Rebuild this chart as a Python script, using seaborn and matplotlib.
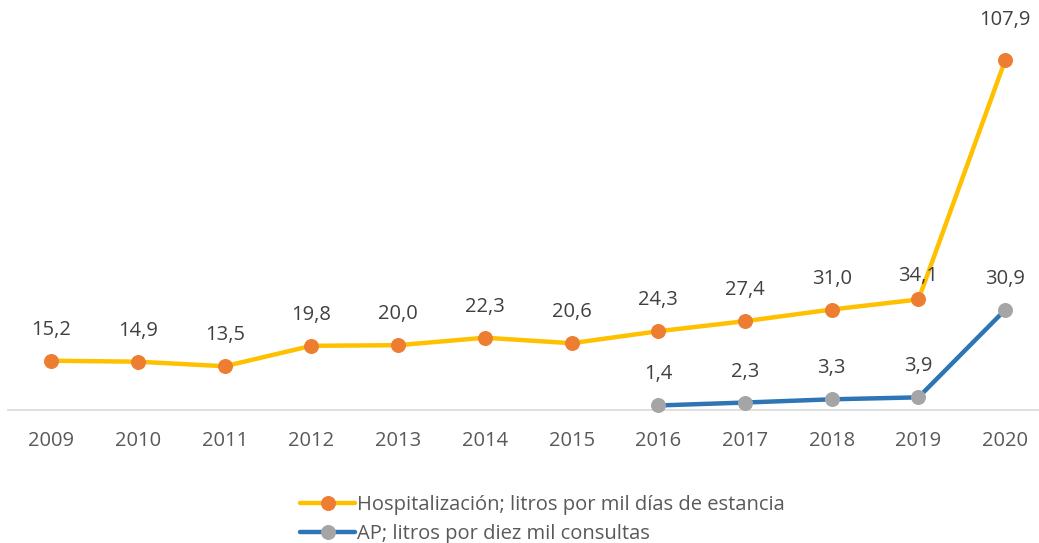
import pandas as pd
import matplotlib.pyplot as plt
import seaborn as sns

years = [str(y) for y in range(2009, 2021)]
hosp = [15.2, 14.9, 13.5, 19.8, 20.0, 22.3, 20.6, 24.3, 27.4, 31.0, 34.1, 107.9]
ap_years = ["2016", "2017", "2018", "2019", "2020"]
ap = [1.4, 2.3, 3.3, 3.9, 30.9]

hosp_label = "Hospitalización; litros por mil días de estancia"
ap_label = "AP; litros por diez mil consultas"

sns.set_style("white")
plt.rcParams['font.family'] = ['Open Sans', 'DejaVu Sans']

text_color = "#595959"
fs = 14.5

fig = plt.figure(figsize=(10.39, 5.43), dpi=100)
ax = fig.add_axes([8 / 1039, 1 - 410 / 543, 1031 / 1039, 389 / 543])

x_pos = {y: i for i, y in enumerate(years)}
df_h = pd.DataFrame({"x": [x_pos[y] for y in years], "v": hosp})
df_a = pd.DataFrame({"x": [x_pos[y] for y in ap_years], "v": ap})

sns.lineplot(data=df_h, x="x", y="v", ax=ax, color="#FFC000", linewidth=3.2,
             marker="o", markersize=10, markerfacecolor="#ED7D31",
             markeredgecolor="#ED7D31", label=hosp_label, clip_on=False, zorder=3)
sns.lineplot(data=df_a, x="x", y="v", ax=ax, color="#2E75B6", linewidth=3.2,
             marker="o", markersize=10, markerfacecolor="#A5A5A5",
             markeredgecolor="#A5A5A5", label=ap_label, clip_on=False, zorder=3)

# data labels (excel puts a few of them a bit higher / lower)
offset_px = {("h", 11): 40, ("h", 10): 23, ("a", 4): 39}
for key, df in (("h", df_h), ("a", df_a)):
    for i, (xx, v) in enumerate(zip(df["x"], df["v"])):
        off = offset_px.get((key, xx), 31) * 0.72
        ax.annotate(f"{v:.1f}".replace(".", ","), (xx, v), xytext=(0, off),
                    textcoords="offset points", ha="center", va="center",
                    fontsize=fs, color="#404040", annotation_clip=False)

ax.set_xlim(-0.5, 11.39)
ax.set_ylim(0, 120)
ax.set_xticks(range(len(years)))
ax.set_xticklabels(years)
ax.set_yticks([])
ax.set_xlabel("")
ax.set_ylabel("")
ax.tick_params(axis="x", length=0, pad=15, labelsize=fs, labelcolor=text_color)

for s in ["top", "right", "left"]:
    ax.spines[s].set_visible(False)
ax.spines["bottom"].set_color("#D9D9D9")
ax.spines["bottom"].set_linewidth(1.2)

handles, labels = ax.get_legend_handles_labels()
leg = ax.legend(handles, labels, loc="upper left", bbox_to_anchor=(282 / 1031, -0.192),
                frameon=False, fontsize=fs, handlelength=2.75, handletextpad=0.1,
                labelspacing=0.45, borderpad=0)
for t in leg.get_texts():
    t.set_color(text_color)

fig.savefig("out.png", dpi=100)
